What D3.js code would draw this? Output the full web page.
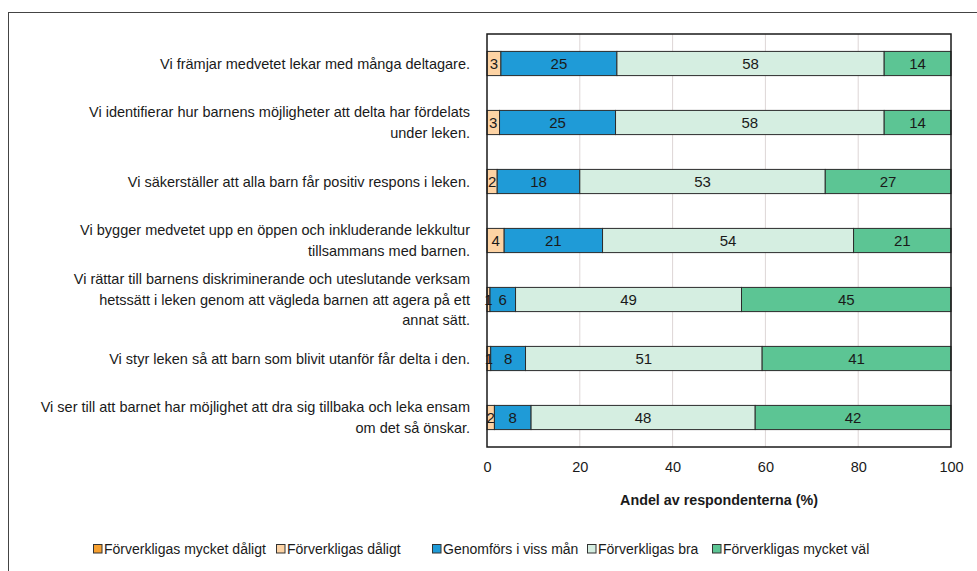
<!DOCTYPE html>
<html><head><meta charset="utf-8">
<script src="https://cdn.jsdelivr.net/npm/d3@7"></script>
<style>body{margin:0;background:#fff;}svg{display:block;font-family:"Liberation Sans",Arial,sans-serif;}</style>
</head><body><svg id="c" width="977" height="571"></svg>
<script>
const categories = [
  "Vi främjar medvetet lekar med många deltagare.",
  "Vi identifierar hur barnens möjligheter att delta har fördelats\nunder leken.",
  "Vi säkerställer att alla barn får positiv respons i leken.",
  "Vi bygger medvetet upp en öppen och inkluderande lekkultur\ntillsammans med barnen.",
  "Vi rättar till barnens diskriminerande och uteslutande verksam\nhetssätt i leken genom att vägleda barnen att agera på ett\nannat sätt.",
  "Vi styr leken så att barn som blivit utanför får delta i den.",
  "Vi ser till att barnet har möjlighet att dra sig tillbaka och leka ensam\nom det så önskar."
];
const seriesNames = ["Förverkligas mycket dåligt","Förverkligas dåligt","Genomförs i viss mån","Förverkligas bra","Förverkligas mycket väl"];
const mycketDaligt = [0, 0, 0, 0, 0, 0, 0];
const daligt       = [3.0, 2.7, 2.2, 3.7, 0.65, 0.8, 1.6];
const vissMan      = [25.0, 25.0, 17.8, 21.2, 5.5, 7.5, 7.9];
const bra          = [57.6, 57.9, 52.9, 54.1, 48.7, 51.0, 48.3];
const mycketVal    = [14.4, 14.4, 27.1, 21.0, 45.15, 40.7, 42.2];
const xTicks = [0, 20, 40, 60, 80, 100];
const colors = ["#F7A030","#FDD3A4","#1F9BD7","#D5EEE1","#5CC594"];

const seriesValues = [mycketDaligt, daligt, vissMan, bra, mycketVal];
const svg = d3.select("#c");
const M = {left:487, right:951, top:34, bottom:447};

// outer frame
svg.append("rect").attr("x",8.5).attr("y",12.5).attr("width",1000).attr("height",600)
  .attr("fill","none").attr("stroke","#444").attr("stroke-width",1);

const x = d3.scaleLinear().domain([0,100]).range([M.left, M.right]);
const y = d3.scaleBand().domain(d3.range(categories.length)).range([M.top, M.bottom]).paddingInner(0.59).paddingOuter(0.295);

// gridlines
svg.append("g").selectAll("line").data(xTicks.slice(1,-1)).join("line")
  .attr("x1",d=>x(d)).attr("x2",d=>x(d)).attr("y1",M.top).attr("y2",M.bottom)
  .attr("stroke","#DDD6D6").attr("stroke-width",1);

const rows = categories.map((c,i)=>{
  let acc=0;
  return seriesValues.map((s,k)=>{const v=s[i]; const d={i,k,x0:acc,x1:acc+v,v}; acc+=v; return d;});
});
const segs = rows.flat().filter(d=>d.v>0);

svg.append("g").selectAll("rect").data(segs).join("rect")
  .attr("x",d=>x(d.x0)).attr("y",d=>y(d.i)).attr("width",d=>x(d.x1)-x(d.x0)).attr("height",y.bandwidth())
  .attr("fill",d=>colors[d.k]).attr("stroke","#2b2b2b").attr("stroke-width",1);

svg.append("g").selectAll("text").data(segs).join("text")
  .attr("x",d=>(x(d.x0)+x(d.x1))/2).attr("y",d=>y(d.i)+y.bandwidth()/2)
  .attr("text-anchor","middle").attr("dominant-baseline","central")
  .attr("font-size",15).attr("fill","#1a1a1a").text(d=>d3.format(".0f")(d.v));

// plot border
svg.append("rect").attr("x",M.left).attr("y",M.top).attr("width",M.right-M.left).attr("height",M.bottom-M.top)
  .attr("fill","none").attr("stroke","#1a1a1a").attr("stroke-width",1.5);

// x axis
const xa = svg.append("g").attr("transform",`translate(0,${M.bottom})`)
  .call(d3.axisBottom(x).tickValues(xTicks).tickSize(0).tickPadding(15));
xa.select(".domain").remove();
xa.selectAll("text").attr("font-size",14.5).attr("fill","#1a1a1a").attr("font-family","Liberation Sans, Arial, sans-serif");

svg.append("text").attr("x",(M.left+M.right)/2).attr("y",505).attr("text-anchor","middle")
  .attr("font-size",14.3).attr("font-weight","bold").attr("fill","#1a1a1a").text("Andel av respondenterna (%)");

// y labels
const lh = 20.8;
categories.forEach((c,i)=>{
  const lines = c.split("\n");
  const cy = y(i)+y.bandwidth()/2;
  const t = svg.append("text").attr("text-anchor","end").attr("font-size",14.5).attr("fill","#1a1a1a");
  lines.forEach((ln,j)=>{
    t.append("tspan").attr("x",470).attr("y",cy + (j-(lines.length-1)/2)*lh).attr("dominant-baseline","central").text(ln);
  });
});

// legend
const legX = [93, 276, 432, 587, 712];
const lg = svg.append("g").selectAll("g").data(seriesNames).join("g")
  .attr("transform",(d,i)=>`translate(${legX[i]},549)`);
lg.append("rect").attr("x",0.5).attr("y",-4.5).attr("width",8.5).attr("height",8.5)
  .attr("fill",(d,i)=>colors[i]).attr("stroke","#333").attr("stroke-width",1);
lg.append("text").attr("x",11).attr("y",0).attr("dominant-baseline","central")
  .attr("font-size",14).attr("fill","#1a1a1a").text(d=>d);
</script></body></html>
